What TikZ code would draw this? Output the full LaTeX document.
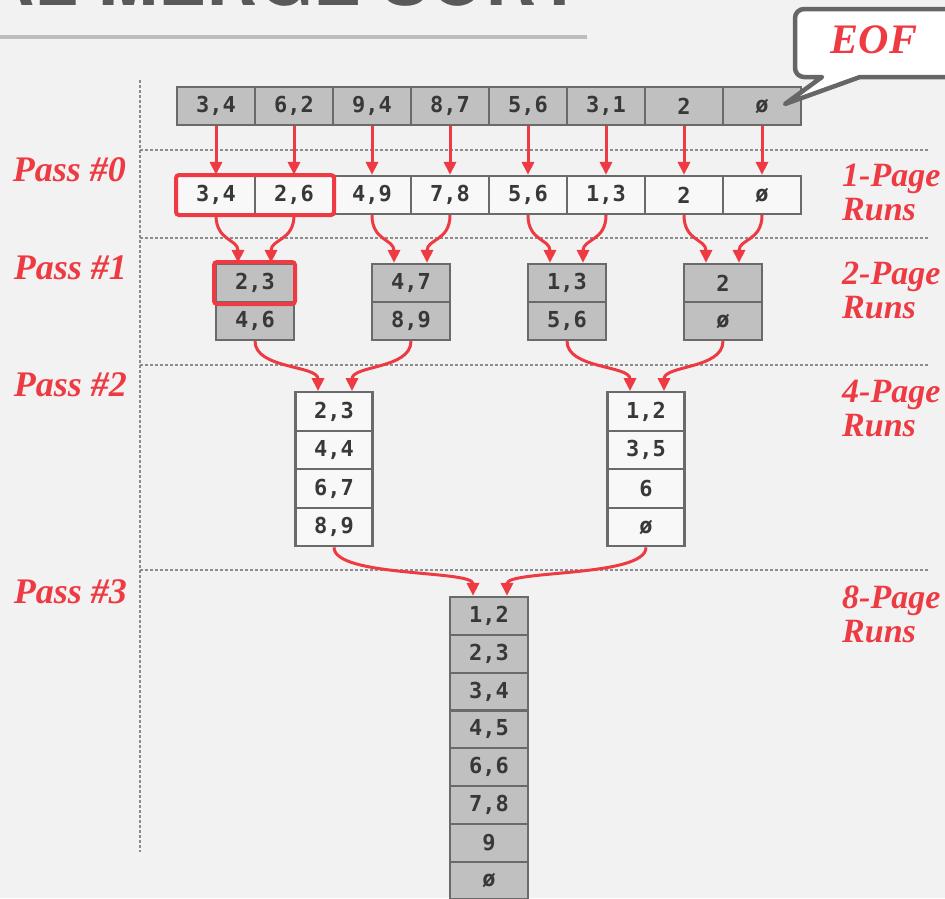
\documentclass[tikz,border=0pt]{standalone}
\usepackage{fontspec}
\setmainfont{Liberation Serif}
\setmonofont{DejaVu Sans Mono}
\newfontfamily\titlefont{TeX Gyre Heros}
\usetikzlibrary{arrows.meta}
\definecolor{bg}{HTML}{F2F2F2}
\definecolor{cellborder}{HTML}{6A6A6A}
\definecolor{cellgray}{HTML}{C0C0C0}
\definecolor{cellwhite}{HTML}{F8F8F8}
\definecolor{numtext}{HTML}{383838}
\definecolor{redc}{HTML}{EE3B43}
\definecolor{dotgray}{HTML}{8C8C8C}
\definecolor{titlegray}{HTML}{595959}
\definecolor{rulegray}{HTML}{BDBDBD}
\definecolor{callgray}{HTML}{666666}
\tikzset{
  cell/.style={draw=cellborder, line width=2.2pt, minimum width=78pt, minimum height=38pt,
    inner sep=0pt, font=\ttfamily\bfseries\fontsize{22}{22}\selectfont, text=numtext},
  gcell/.style={cell, fill=cellgray},
  wcell/.style={cell, fill=cellwhite},
  arr/.style={draw=redc, line width=3pt, -{Triangle[length=13pt,width=12pt]}},
  sep/.style={draw=dotgray, line width=2.5pt, dash pattern=on 2.5pt off 2.5pt},
  passlbl/.style={font=\bfseries\itshape\fontsize{36}{36}\selectfont, text=redc, inner sep=0pt, anchor=east},
  runlbl/.style={font=\bfseries\itshape\fontsize{34}{34}\selectfont, text=redc, inner sep=0pt, anchor=west, align=left},
  hilite/.style={draw=redc, line width=4pt, rounded corners=3pt}
}
\begin{document}
\begin{tikzpicture}[x=1pt,y=-1pt]
\useasboundingbox (0,0) rectangle (945,898);
\clip (0,0) rectangle (945,898);
\fill[bg] (0,0) rectangle (945,898);
% title remnant
\node[anchor=base east, font=\titlefont\bfseries\fontsize{72}{72}\selectfont, text=titlegray, inner sep=0pt] (title) at (582,5) {EXTERNAL MERGE SORT};
\draw[rulegray, line width=4pt] (0,37) -- (587,37);
% separators
\draw[sep] (140,80) -- (140,852);
\draw[sep] (140,150) -- (928,150);
\draw[sep] (140,238) -- (928,238);
\draw[sep] (140,365) -- (928,365);
\draw[sep] (140,570) -- (928,570);
% top row
\foreach \i/\l in {1/{3,4},2/{6,2},3/{9,4},4/{8,7},5/{5,6},6/{3,1},7/{2},8/{ø}}
  \node[gcell] (t\i) at (138+78*\i,106) {\l};
% pass 0 row
\foreach \i/\l in {1/{3,4},2/{2,6},3/{4,9},4/{7,8},5/{5,6},6/{1,3},7/{2},8/{ø}}
  \node[wcell] (r\i) at (138+78*\i,195) {\l};
\foreach \i in {1,...,8}
  \draw[arr] (t\i.south) -- (r\i.north);
\draw[hilite] (176,175) rectangle (334,215);
% pass 1
\foreach \k/\a/\b in {1/{2,3}/{4,6},2/{4,7}/{8,9},3/{1,3}/{5,6},4/{2}/{ø}}{
  \node[gcell] (pa\k) at (99+156*\k,283) {\a};
  \node[gcell] (pb\k) at (99+156*\k,321) {\b};
}
\draw[hilite] (214,262) rectangle (295,304);
\foreach \k/\l/\r in {1/1/2,2/3/4,3/5/6,4/7/8}{
  \draw[arr] (r\l.south) .. controls +(0,26) and +(0,-24) .. ([xshift=-17pt]pa\k.north);
  \draw[arr] (r\r.south) .. controls +(0,26) and +(0,-24) .. ([xshift=16pt]pa\k.north);
}
% pass 2
\foreach \j/\l in {1/{2,3},2/{4,4},3/{6,7},4/{8,9}}
  \node[wcell, minimum width=77pt, minimum height=38.5pt] (qa\j) at (334,373+38.5*\j) {\l};
\foreach \j/\l in {1/{1,2},2/{3,5},3/{6},4/{ø}}
  \node[wcell, minimum width=77pt, minimum height=38.5pt] (qb\j) at (646,373+38.5*\j) {\l};
\draw[arr] (pb1.south) .. controls +(0,28) and +(0,-26) .. ([xshift=-16pt]qa1.north);
\draw[arr] (pb2.south) .. controls +(0,28) and +(0,-26) .. ([xshift=18pt]qa1.north);
\draw[arr] (pb3.south) .. controls +(0,28) and +(0,-26) .. ([xshift=-16pt]qb1.north);
\draw[arr] (pb4.south) .. controls +(0,28) and +(0,-26) .. ([xshift=18pt]qb1.north);
% pass 3
\foreach \j/\l in {1/{1,2},2/{2,3},3/{3,4},4/{4,5},5/{6,6},6/{7,8},7/{9},8/{ø}}
  \node[gcell, minimum height=37.8pt] (s\j) at (489,578.1+37.8*\j) {\l};
\draw[arr] (qa4.south) .. controls +(0,30) and +(0,-26) .. ([xshift=-16pt]s1.north);
\draw[arr] (qb4.south) .. controls +(0,30) and +(0,-26) .. ([xshift=18pt]s1.north);
% labels
\node[passlbl] (l0) at (126,170) {Pass \#0};
\node[passlbl] (l1) at (127,268) {Pass \#1};
\node[passlbl] (l2) at (127,385) {Pass \#2};
\node[passlbl] (l3) at (127,592) {Pass \#3};
\node[runlbl] (u1) at (842,192) {1-Page\\Runs};
\node[runlbl] (u2) at (842,290) {2-Page\\Runs};
\node[runlbl] (u4) at (842,408) {4-Page\\Runs};
\node[runlbl] (u8) at (842,614) {8-Page\\Runs};
% EOF callout
\draw[callgray, line width=4.5pt, fill=white, line join=round]
  (822,77) -- (785,104) -- (860,77) [rounded corners=9pt] -- (970,77) -- (970,9) -- (795,9) -- (795,77) [sharp corners] -- cycle;
\node[font=\bfseries\itshape\fontsize{42}{42}\selectfont, text=redc, inner sep=0pt] (eof) at (874,40) {EOF};
\end{tikzpicture}
\end{document}
